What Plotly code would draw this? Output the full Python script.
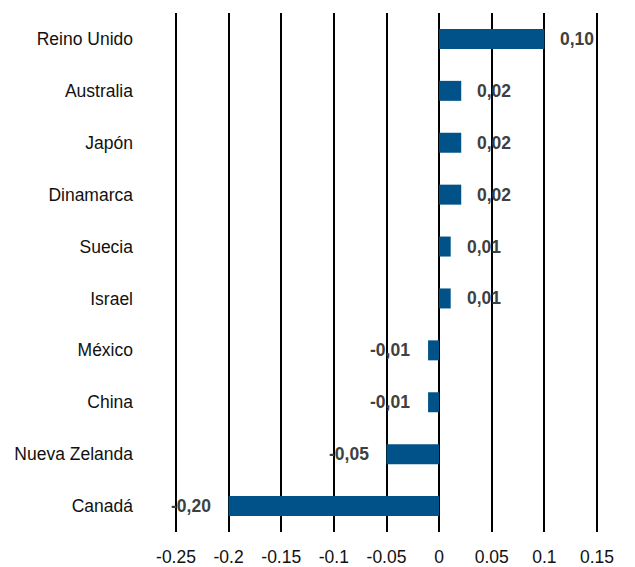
import plotly.graph_objects as go

categories = ["Reino Unido", "Australia", "Japón", "Dinamarca", "Suecia",
              "Israel", "México", "China", "Nueva Zelanda", "Canadá"]
values = [0.10, 0.021, 0.021, 0.021, 0.011, 0.011, -0.0105, -0.0105, -0.05, -0.20]
tick_vals = [-0.25, -0.2, -0.15, -0.1, -0.05, 0, 0.05, 0.1, 0.15]
tick_text = ["-0.25", "-0.2", "-0.15", "-0.1", "-0.05", "0", "0.05", "0.1", "0.15"]

FONT = "Liberation Sans, Arial, sans-serif"

def fmt(v):
    return f"{v:.2f}".replace(".", ",")

fig = go.Figure()
fig.add_trace(go.Bar(
    y=categories, x=values, orientation="h",
    marker=dict(color="#005288", line=dict(width=0)),
    width=0.385, hoverinfo="skip",
))

for c, v in zip(categories, values):
    pos = v >= 0
    fig.add_annotation(
        x=v, y=c, text=f"<b>{fmt(v)}</b>", showarrow=False,
        xanchor="left" if pos else "right",
        xshift=14 if pos else -16,
        font=dict(family=FONT, size=17.5, color="#404040"),
    )

fig.update_layout(
    width=635, height=567,
    margin=dict(l=173, r=35, t=13, b=35, autoexpand=False),
    paper_bgcolor="white", plot_bgcolor="white",
    showlegend=False,
    font=dict(family=FONT, size=17.5, color="#111111"),
    xaxis=dict(
        range=[-0.25285, 0.15285], tickvals=tick_vals, ticktext=tick_text,
        showgrid=True, gridcolor="black", gridwidth=2,
        zeroline=True, zerolinecolor="black", zerolinewidth=2,
        showline=False, ticks="", ticklabelstandoff=12, automargin=False,
        tickfont=dict(family=FONT, size=17.5, color="#111111"),
    ),
    yaxis=dict(
        categoryorder="array", categoryarray=categories[::-1],
        range=[-0.5, 9.5], showgrid=False, zeroline=False, showline=False,
        ticks="", ticklabelstandoff=39, automargin=False,
        tickfont=dict(family=FONT, size=17.5, color="#111111"),
    ),
)

fig.write_html("out.html", config={"displayModeBar": False},
               post_script="document.body.style.margin='0px';")
